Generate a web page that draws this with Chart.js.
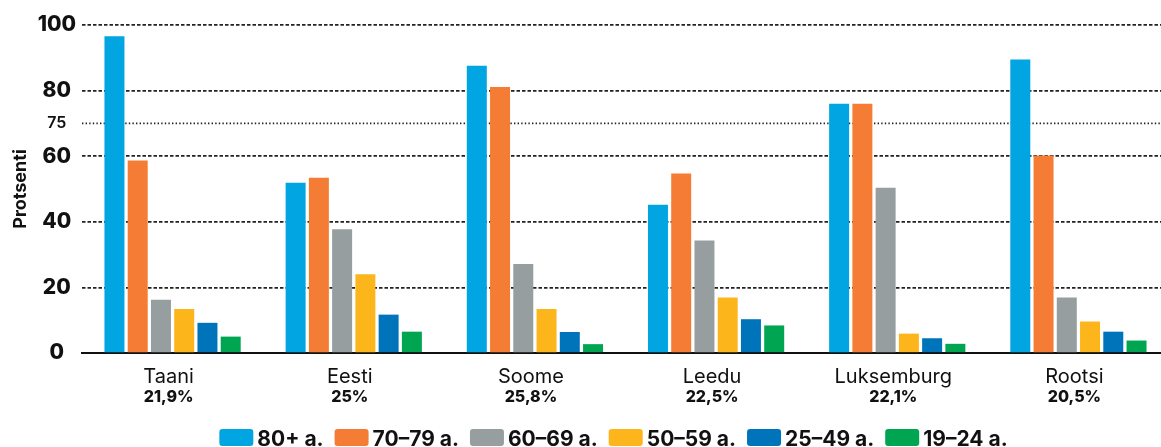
<!DOCTYPE html>
<html lang="et">
<head>
<meta charset="utf-8">
<title>Protsenti vanuserühmade kaupa</title>
<script src="https://cdn.jsdelivr.net/npm/chart.js@4.4.1/dist/chart.umd.min.js"></script>
<style>
  html, body { margin: 0; padding: 0; background: #fff; overflow: hidden; }
  #wrap { position: relative; width: 1169px; height: 447px; }
</style>
</head>
<body>
<div id="wrap"><canvas id="grafico"></canvas></div>
<script>
const riigid = ["Taani", "Eesti", "Soome", "Leedu", "Luksemburg", "Rootsi"];
const osakaal = ["21,9%", "25%", "25,8%", "22,5%", "22,1%", "20,5%"];

const vanus80 = [96.6, 51.9, 87.6, 45.2, 76.0, 89.5];
const vanus70 = [58.7, 53.4, 81.1, 54.7, 76.0, 60.2];
const vanus60 = [16.2, 37.7, 27.1, 34.3, 50.4, 16.9];
const vanus50 = [13.4, 24.0, 13.4, 16.9, 5.9, 9.6];
const vanus25 = [9.2, 11.7, 6.4, 10.3, 4.5, 6.5];
const vanus19 = [5.0, 6.5, 2.7, 8.4, 2.8, 3.8];

const seeriad = ["80+ a.", "70–79 a.", "60–69 a.", "50–59 a.", "25–49 a.", "19–24 a."];
const varvid = ["#00a5e1", "#f47c34", "#979e9f", "#fdb51c", "#0074bb", "#00a551"];

// y ticks: the "75" line sits at 70 in the original picture
const tickValues = [0, 20, 40, 60, 70, 80, 100];
const tickLabels = ["0", "20", "40", "60", "75", "80", "100"];
const dottedTick = 70;

const FONT = "Inter, 'Noto Sans', sans-serif";

document.addEventListener("DOMContentLoaded", () => {
  const ctx = document.getElementById("grafico").getContext("2d");
  const andmed = [vanus80, vanus70, vanus60, vanus50, vanus25, vanus19];

  const dottedLine = {
    id: "dottedLine",
    beforeDatasetsDraw(chart) {
      const { ctx, chartArea } = chart;
      const y = chart.scales.y.getPixelForValue(dottedTick);
      ctx.save();
      ctx.strokeStyle = "#222";
      ctx.lineWidth = 1.6;
      ctx.setLineDash([1.4, 2.2]);
      ctx.beginPath();
      ctx.moveTo(chartArea.left, y);
      ctx.lineTo(chartArea.right, y);
      ctx.stroke();
      ctx.restore();
    }
  };

  const categoryLabels = {
    id: "categoryLabels",
    afterDraw(chart) {
      const { ctx, chartArea } = chart;
      const x = chart.scales.x;
      ctx.save();
      ctx.fillStyle = "#111";
      ctx.textAlign = "center";
      ctx.textBaseline = "alphabetic";
      riigid.forEach((nimi, i) => {
        const px = x.getPixelForValue(i) - 4;
        ctx.font = "400 20px " + FONT;
        ctx.fillText(nimi, px, chartArea.bottom + 30);
        ctx.font = "800 16px " + FONT;
        ctx.fillText(osakaal[i], px, chartArea.bottom + 49);
      });
      ctx.restore();
    }
  };

  const legendRow = {
    id: "legendRow",
    afterDraw(chart) {
      const { ctx, chartArea } = chart;
      const boxW = 34, boxH = 17, gapText = 4, gapItem = 11;
      ctx.save();
      ctx.font = "700 21px " + FONT;
      const widths = seeriad.map(s => ctx.measureText(s).width);
      const total = widths.reduce((a, w) => a + boxW + gapText + w, 0) + gapItem * (seeriad.length - 1);
      let x = (chartArea.left + chartArea.right) / 2 - 12 - total / 2;
      const boxTop = chartArea.bottom + 76;
      const base = chartArea.bottom + 92.5;
      seeriad.forEach((s, i) => {
        ctx.fillStyle = varvid[i];
        ctx.beginPath();
        ctx.roundRect(x, boxTop, boxW, boxH, 3);
        ctx.fill();
        ctx.fillStyle = "#111";
        ctx.textAlign = "left";
        ctx.textBaseline = "alphabetic";
        ctx.fillText(s, x + boxW + gapText, base);
        x += boxW + gapText + widths[i] + gapItem;
      });
      ctx.restore();
    }
  };

  new Chart(ctx, {
    type: "bar",
    data: {
      labels: riigid,
      datasets: seeriad.map((s, i) => ({
        label: s,
        data: andmed[i],
        backgroundColor: varvid[i],
        borderWidth: 0,
        categoryPercentage: 0.77,
        barPercentage: 0.86
      }))
    },
    options: {
      responsive: true,
      maintainAspectRatio: false,
      animation: false,
      layout: { padding: { top: 25, bottom: 94, left: 0, right: 0 } },
      plugins: {
        legend: { display: false },
        tooltip: { enabled: false }
      },
      scales: {
        x: {
          grid: { display: false, drawTicks: false },
          border: { display: true, color: "#111", width: 2 },
          ticks: { display: false },
          afterFit(scale) { scale.height = 0; }
        },
        y: {
          min: 0,
          max: 100,
          afterBuildTicks(scale) {
            scale.ticks = tickValues.map(v => ({ value: v }));
          },
          afterFit(scale) { scale.width = 82; },
          grid: {
            drawTicks: false,
            lineWidth: 1.7,
            color: c => (c.tick && (c.tick.value === dottedTick || c.tick.value === 0)) ? "rgba(0,0,0,0)" : "#222"
          },
          border: { display: false, dash: [3.5, 2] },
          ticks: {
            padding: 6,
            crossAlign: "center",
            color: "#111",
            font: c => (c.tick && c.tick.value === dottedTick)
              ? { family: FONT, size: 16, weight: "600" }
              : { family: FONT, size: 21, weight: "800" },
            callback: value => tickLabels[tickValues.indexOf(value)]
          },
          title: {
            display: true,
            text: "Protsenti",
            color: "#111",
            font: { family: FONT, size: 18, weight: "700" },
            padding: { top: 10, bottom: 0 }
          }
        }
      }
    },
    plugins: [dottedLine, categoryLabels, legendRow]
  });
});
</script>
</body>
</html>
